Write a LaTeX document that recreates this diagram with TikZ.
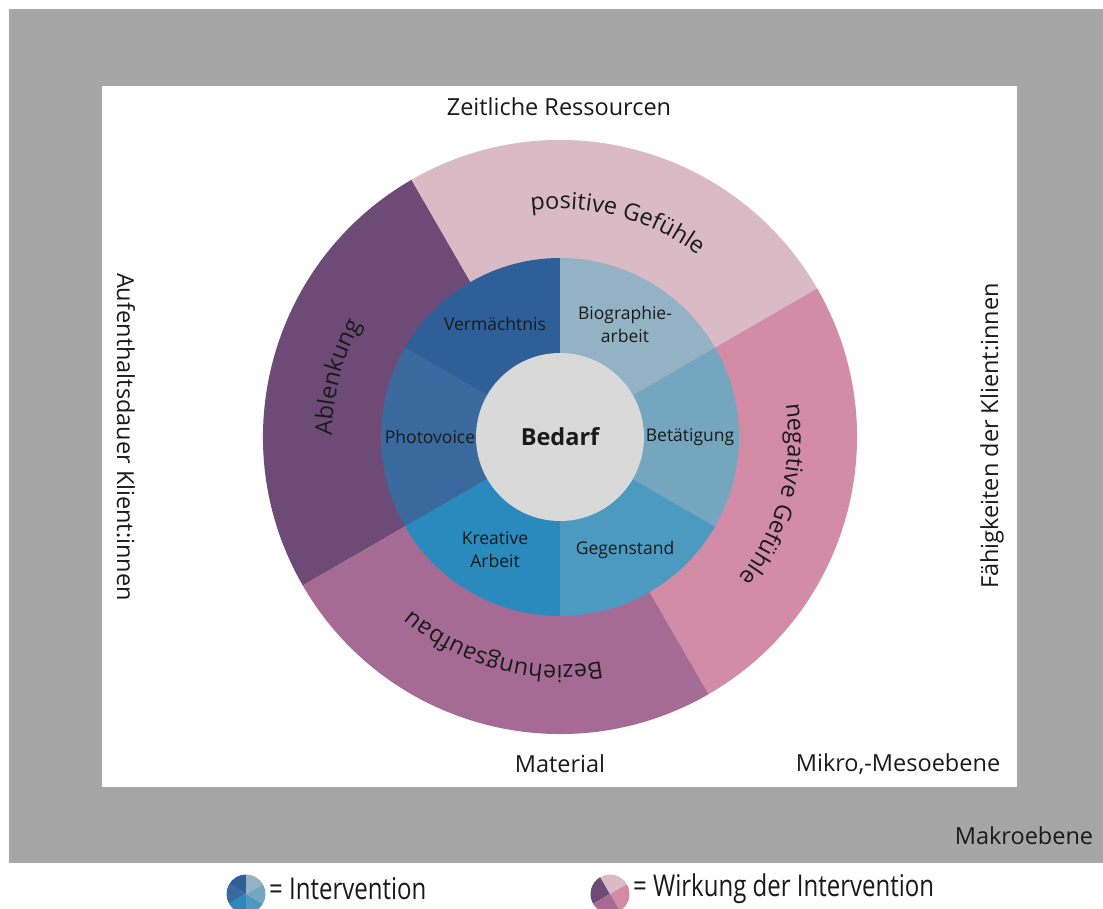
\documentclass[tikz,border=0pt]{standalone}
\usepackage{fontspec}
\setmainfont{Open Sans}
\usetikzlibrary{decorations.text}

\definecolor{frame}{HTML}{A6A6A6}
\definecolor{txt}{HTML}{1A1A1A}
\definecolor{bedarf}{HTML}{D9D9D9}
\definecolor{verm}{HTML}{2E5F99}
\definecolor{photo}{HTML}{3A699D}
\definecolor{kreat}{HTML}{2A8ABD}
\definecolor{gegen}{HTML}{4D9AC1}
\definecolor{betae}{HTML}{74A6BF}
\definecolor{biogr}{HTML}{93B3C4}
\definecolor{ablenk}{HTML}{6D4B76}
\definecolor{posit}{HTML}{D9BAC5}
\definecolor{negat}{HTML}{D28CA6}
\definecolor{bezieh}{HTML}{A56B94}

\newcommand{\arcfont}{\fontsize{23.5}{28}\selectfont\color{txt}}

\begin{document}
\begin{tikzpicture}[x=1pt,y=1pt,
  lbl/.style={font=\fontsize{23.5}{28}\selectfont, text=txt, inner sep=0pt},
  seg/.style={font=\fontsize{17.5}{23}\selectfont, text=txt, align=center, inner sep=0pt},
  leg/.style={font=\fontsize{30}{32}\selectfont, text=txt, inner sep=0pt, anchor=west},
  arclbl/.style={decorate, decoration={text along path, text align=center, text={|\arcfont|#1}}}]
\useasboundingbox (0,0) rectangle (1103,908);
\fill[white] (0,0) rectangle (1103,908);
% Makro- und Mikroebene
\fill[frame] (8.5,45) rectangle (1103,899);
\fill[white] (102,121) rectangle (1017,822);
\coordinate (c) at (560,471);
% aeusserer Ring: Wirkung
\foreach \a/\col in {120/ablenk,30/posit,-60/negat,210/bezieh}
  \fill[\col] (c) -- ++(\a:297) arc[start angle=\a,end angle=\a+90,radius=297] -- cycle;
% innerer Ring: Intervention
\foreach \a/\col in {90/verm,150/photo,210/kreat,270/gegen,330/betae,30/biogr}
  \fill[\col] (c) -- ++(\a:179) arc[start angle=\a,end angle=\a+60,radius=179] -- cycle;
\fill[bedarf] (c) circle[radius=84];
\node[lbl, font=\bfseries\fontsize{23.5}{28}\selectfont] (bed) at (c) {Bedarf};
\foreach \a/\nm/\t in {120/verm/Vermächtnis,60/biogr/{Biographie-\\arbeit},180/photo/Photovoice,
    0/betae/Betätigung,240/kreat/{Kreative\\Arbeit},300/gegen/Gegenstand}
  \path (c) ++(\a:130) node[seg] (\nm) {\t};
% Beschriftung am Ring
\path[arclbl=positive Gefühle] ([shift={(120:228)}]c) arc[start angle=120,end angle=30,radius=228];
\path[arclbl=Ablenkung] ([shift={(210:228)}]c) arc[start angle=210,end angle=120,radius=228];
\path[arclbl=negative Gefühle] ([shift={(30:228)}]c) arc[start angle=30,end angle=-60,radius=228];
\path[arclbl=Beziehungsaufbau] ([shift={(300:228)}]c) arc[start angle=300,end angle=210,radius=228];
% Rahmenbedingungen
\node[lbl] (zeit) at (559,801) {Zeitliche Ressourcen};
\node[lbl] (mat) at (560,144) {Material};
\node[lbl] (mikro) at (898,144) {Mikro,-Mesoebene};
\node[lbl] (makro) at (1024,72) {Makroebene};
\node[lbl, rotate=-90] (aufent) at (126,471) {Aufenthaltsdauer Klient:innen};
\node[lbl, rotate=90] (faehig) at (992,472) {Fähigkeiten der Klient:innen};
% Legende
\coordinate (iconL) at (246,14);
\coordinate (iconR) at (610,14);
\foreach \a/\col in {90/verm,150/photo,210/kreat,270/gegen,330/betae,30/biogr}
  \fill[\col] (iconL) -- ++(\a:19.5) arc[start angle=\a,end angle=\a+60,radius=19.5] -- cycle;
\foreach \a/\col in {120/ablenk,30/posit,-60/negat,210/bezieh}
  \fill[\col] (iconR) -- ++(\a:19.5) arc[start angle=\a,end angle=\a+90,radius=19.5] -- cycle;
\node[leg] (legL) at (269,19) {\scalebox{0.8}[1]{= Intervention}};
\node[leg] (legR) at (633,19) {\scalebox{0.8}[1]{= Wirkung der Intervention}};
\end{tikzpicture}
\end{document}
